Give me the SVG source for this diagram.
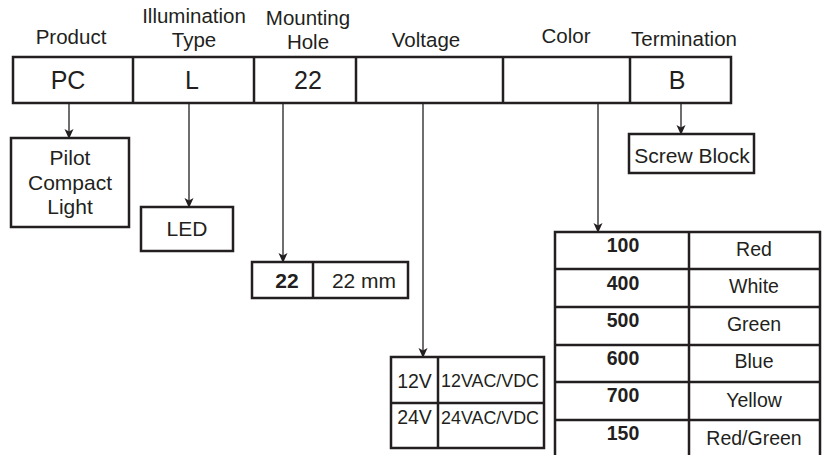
<svg xmlns="http://www.w3.org/2000/svg" width="822" height="455" viewBox="0 0 822 455">
<defs>
<marker id="ah" markerWidth="10" markerHeight="10" refX="9" refY="5" orient="auto" markerUnits="userSpaceOnUse">
<path d="M0,0.5 L10,5 L0,9.5 L2.5,5 Z" fill="#231f20"/>
</marker>
<style>
text{font-family:"Liberation Sans",Arial,sans-serif;fill:#231f20;text-anchor:middle}
.h{font-size:20.5px}
.big{font-size:25px}
.t{font-size:21px}
.c{font-size:19.5px}
.b{font-weight:bold}
.s{font-size:17.5px}
.box{fill:#fff;stroke:#231f20;stroke-width:2.5}
.ln{stroke:#231f20;stroke-width:2.5;fill:none}
.ar{stroke:#231f20;stroke-width:1.3;fill:none;marker-end:url(#ah)}
</style>
</defs>
<rect width="822" height="455" fill="#fff"/>
<g id="headers">
<text class="h" x="71" y="44">Product</text>
<text class="h" x="194" y="23">Illumination</text>
<text class="h" x="194" y="47">Type</text>
<text class="h" x="308" y="25">Mounting</text>
<text class="h" x="308" y="49">Hole</text>
<text class="h" x="426" y="47">Voltage</text>
<text class="h" x="566" y="43">Color</text>
<text class="h" x="684" y="46">Termination</text>
</g>
<g id="code-bar">
<rect class="box" x="13" y="57" width="718" height="46"/>
<line class="ln" x1="133" y1="57" x2="133" y2="103"/>
<line class="ln" x1="254" y1="57" x2="254" y2="103"/>
<line class="ln" x1="356" y1="57" x2="356" y2="103"/>
<line class="ln" x1="503" y1="57" x2="503" y2="103"/>
<line class="ln" x1="630" y1="57" x2="630" y2="103"/>
<text class="big" x="68" y="89">PC</text>
<text class="big" x="192" y="89">L</text>
<text class="big" x="308" y="89">22</text>
<text class="big" x="677" y="89">B</text>
</g>
<g id="connectors">
<line class="ar" x1="69" y1="104" x2="69" y2="138"/>
<line class="ar" x1="189" y1="104" x2="189" y2="207"/>
<line class="ar" x1="283" y1="104" x2="283" y2="262"/>
<line class="ar" x1="423" y1="104" x2="423" y2="357"/>
<line class="ar" x1="598" y1="104" x2="598" y2="232"/>
<line class="ar" x1="681" y1="104" x2="681" y2="134"/>
</g>
<g id="product">
<rect class="box" x="11" y="138" width="118" height="89"/>
<text class="t" x="70" y="165">Pilot</text>
<text class="t" x="70" y="190">Compact</text>
<text class="t" x="70" y="214">Light</text>
</g>
<g id="illumination">
<rect class="box" x="141" y="207" width="92" height="44"/>
<text class="t" x="187" y="236">LED</text>
</g>
<g id="mounting">
<rect class="box" x="252" y="262" width="156" height="36"/>
<line class="ln" x1="313" y1="262" x2="313" y2="298"/>
<text class="t b" x="287" y="288">22</text>
<text class="t" x="364" y="288">22 mm</text>
</g>
<g id="termination">
<rect class="box" x="629" y="134" width="125" height="39"/>
<text class="t" x="692" y="163">Screw Block</text>
</g>
<g id="voltage">
<rect class="box" x="391" y="357" width="153" height="91"/>
<line class="ln" x1="391" y1="403" x2="544" y2="403"/>
<line class="ln" x1="438" y1="357" x2="438" y2="448"/>
<text class="c" x="414.5" y="388">12V</text>
<text class="s" x="490" y="387" textLength="98" lengthAdjust="spacingAndGlyphs">12VAC/VDC</text>
<text class="c" x="414.5" y="424">24V</text>
<text class="s" x="490" y="424" textLength="98" lengthAdjust="spacingAndGlyphs">24VAC/VDC</text>
</g>
<g id="color">
<rect class="box" x="555" y="232" width="265" height="226"/>
<line class="ln" x1="555" y1="269" x2="820" y2="269"/>
<line class="ln" x1="555" y1="307" x2="820" y2="307"/>
<line class="ln" x1="555" y1="345" x2="820" y2="345"/>
<line class="ln" x1="555" y1="382" x2="820" y2="382"/>
<line class="ln" x1="555" y1="420" x2="820" y2="420"/>
<line class="ln" x1="689" y1="232" x2="689" y2="458"/>
<text class="c b" x="623" y="252">100</text>
<text class="c" x="754" y="256">Red</text>
<text class="c b" x="623" y="290">400</text>
<text class="c" x="754" y="293">White</text>
<text class="c b" x="623" y="327">500</text>
<text class="c" x="754" y="331">Green</text>
<text class="c b" x="623" y="365">600</text>
<text class="c" x="754" y="368">Blue</text>
<text class="c b" x="623" y="402">700</text>
<text class="c" x="754" y="407">Yellow</text>
<text class="c b" x="623" y="440">150</text>
<text class="c" x="754" y="445">Red/Green</text>
</g>
</svg>
